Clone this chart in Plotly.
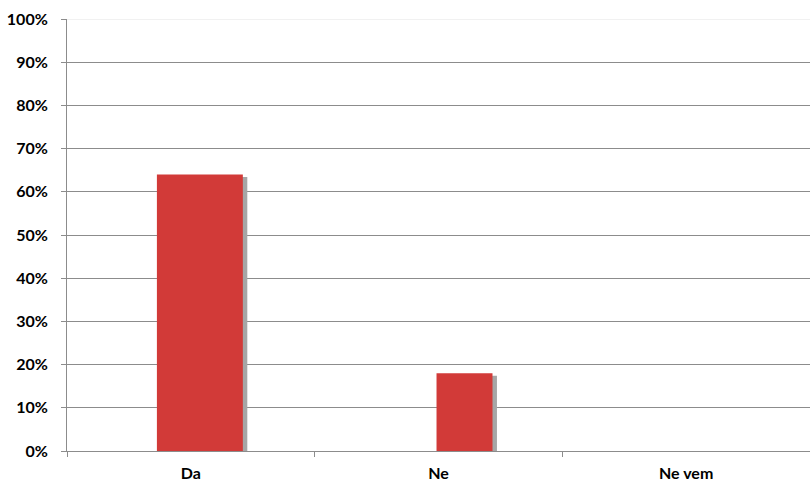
import plotly.graph_objects as go

categories = ["Da", "Ne", "Ne vem"]
values = [0.64, 0.18, 0.0]

# per-bar geometry (category units) as seen in the reference
bar_widths = [0.347, 0.226, 0.3]
bar_offsets = [-0.137, -0.008, -0.15]
shadow_shift = 0.018
shadow_drop = 0.006

tickfont = dict(family="Lato, Open Sans, sans-serif", size=16, color="#000000", weight="bold")

fig = go.Figure()
fig.add_trace(go.Bar(
    x=categories, y=[max(v - shadow_drop, 0) for v in values],
    width=bar_widths,
    offset=[o + shadow_shift for o in bar_offsets],
    marker=dict(color="#a6a6a6", line=dict(width=0)),
    hoverinfo="skip", showlegend=False,
))
fig.add_trace(go.Bar(
    x=categories, y=values,
    width=bar_widths,
    offset=bar_offsets,
    marker=dict(color="#d23a38", line=dict(width=0)),
    showlegend=False,
))

fig.update_layout(
    width=810, height=483,
    margin=dict(l=67, r=0, t=19, b=32),
    paper_bgcolor="white", plot_bgcolor="white",
    barmode="overlay",
    shapes=[dict(type="line", xref="paper", yref="y", x0=0, x1=1, y0=1, y1=1,
                 line=dict(color="#e4e4e4", width=1), layer="above")],
)
fig.update_yaxes(
    range=[0, 1], dtick=0.1, tickformat=".0%",
    showgrid=True, gridcolor="#8c8c8c", gridwidth=1,
    showline=True, linecolor="#8c8c8c", linewidth=1,
    ticks="outside", ticklen=5, tickcolor="#8c8c8c",
    ticklabelstandoff=10,
    tickfont=tickfont,
    zeroline=False, automargin=False,
)
fig.update_xaxes(
    type="category", range=[-0.5, 2.5],
    tickson="boundaries",
    showline=True, linecolor="#8c8c8c", linewidth=1,
    ticks="outside", ticklen=5, tickcolor="#8c8c8c",
    ticklabelstandoff=8,
    tickfont=tickfont,
    showgrid=False, automargin=False,
)

fig.write_html("out.html")
